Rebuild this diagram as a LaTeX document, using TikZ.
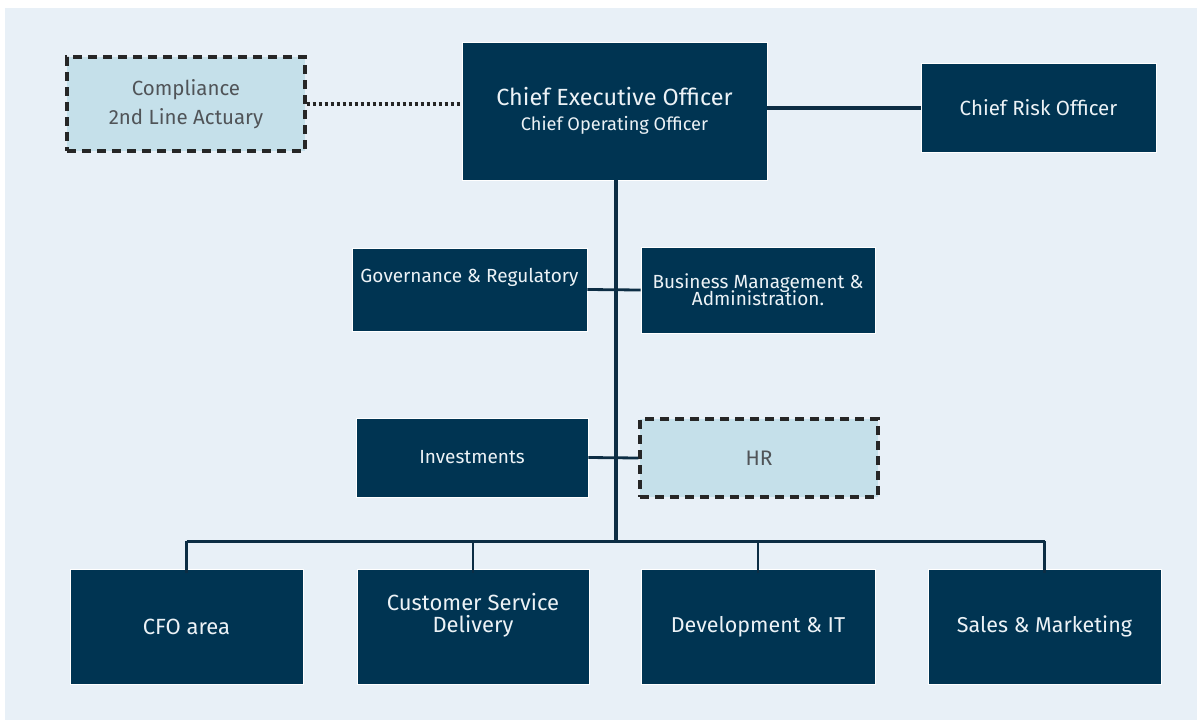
\documentclass[tikz,border=0pt]{standalone}
\usepackage{fontspec}
\setmainfont{Fira Sans}
\definecolor{bgc}{RGB}{232,240,247}
\definecolor{navy}{RGB}{0,52,82}
\definecolor{linec}{RGB}{12,45,68}
\definecolor{lightb}{RGB}{197,224,234}
\definecolor{txtw}{RGB}{236,242,246}
\definecolor{txtg}{RGB}{80,84,88}
\tikzset{
  darkbox/.style={draw=white, line width=0.8pt, fill=navy, text=txtw, align=center, inner sep=2pt},
  lightbox/.style={draw=black!85, line width=3.2pt, dash pattern=on 9pt off 6pt, fill=lightb, text=txtg, align=center, inner sep=2pt},
  conn/.style={draw=linec, line width=2.8pt},
  trunk/.style={draw=linec, line width=4pt},
  dotline/.style={draw=black!85, line width=3.4pt, dash pattern=on 3pt off 3pt}
}
\begin{document}
\begin{tikzpicture}[x=1pt,y=-1pt]
\fill[white] (0,0) rectangle (1202,723);
\fill[bgc] (5,8) rectangle (1197,720);
\useasboundingbox (0,0) rectangle (1202,723);
% top row
\node[lightbox, minimum width=238pt, minimum height=94pt, font=\fontsize{20.5}{29}\selectfont] (comp) at (186,104) {Compliance\\2nd Line Actuary};
\node[darkbox, minimum width=305pt, minimum height=138pt] (ceo) at (614.5,111) {\fontsize{23.4}{27}\selectfont Chief Executive Officer\\[9pt]\fontsize{18.2}{21}\selectfont Chief Operating Officer};
\node[darkbox, minimum width=235pt, minimum height=89pt, font=\fontsize{20.5}{24}\selectfont] (cro) at (1038.5,107.5) {Chief Risk Officer};
% middle
\node[darkbox, minimum width=235pt, minimum height=83pt, font=\fontsize{19}{22}\selectfont] (gov) at (469.5,289.5) {Governance \& Regulatory\\\strut};
\node[darkbox, minimum width=234pt, minimum height=86pt, font=\fontsize{19}{16}\selectfont] (bma) at (758,290) {Business Management \&\\[-3pt]Administration.};
\node[darkbox, minimum width=232pt, minimum height=79pt, font=\fontsize{19}{22}\selectfont] (inv) at (472,457.5) {Investments};
\node[lightbox, minimum width=238pt, minimum height=78pt, font=\fontsize{21}{24}\selectfont] (hr) at (759,458) {HR};
% bottom
\node[darkbox, minimum width=233pt, minimum height=115pt, font=\fontsize{22}{22}\selectfont] (cfo) at (186.5,626.5) {CFO area};
\node[darkbox, minimum width=232pt, minimum height=115pt, font=\fontsize{22}{22}\selectfont] (csd) at (473,626.5) {Customer Service\\Delivery\\[6pt]};
\node[darkbox, minimum width=234pt, minimum height=115pt, font=\fontsize{21.5}{22}\selectfont] (dev) at (758,626.5) {Development \& IT};
\node[darkbox, minimum width=233pt, minimum height=115pt, font=\fontsize{21.5}{22}\selectfont] (sal) at (1044.5,626.5) {Sales \& Marketing};
% connectors
\coordinate (bus) at (616,541);
\coordinate (top) at (616,180);
\draw[trunk] (top) -- (bus);
\draw[conn, line width=3pt] (cfo.north |- bus) -- (sal.north |- bus);
\draw[conn] (cfo.north |- bus) -- ([yshift=-4pt]cfo.north);
\draw[conn] (csd.north |- bus) -- ([yshift=-4pt]csd.north);
\draw[conn] (dev.north |- bus) -- ([yshift=-4pt]dev.north);
\draw[conn] (sal.north |- bus) -- ([yshift=-4pt]sal.north);
\draw[conn] (gov.east) -- (bma.west);
\draw[conn] (inv.east) -- (hr.west);
\draw[trunk] (ceo.east |- cro.west) -- (cro.west);
\draw[dotline] (comp.east) -- (ceo.west |- comp.east);
\end{tikzpicture}
\end{document}
